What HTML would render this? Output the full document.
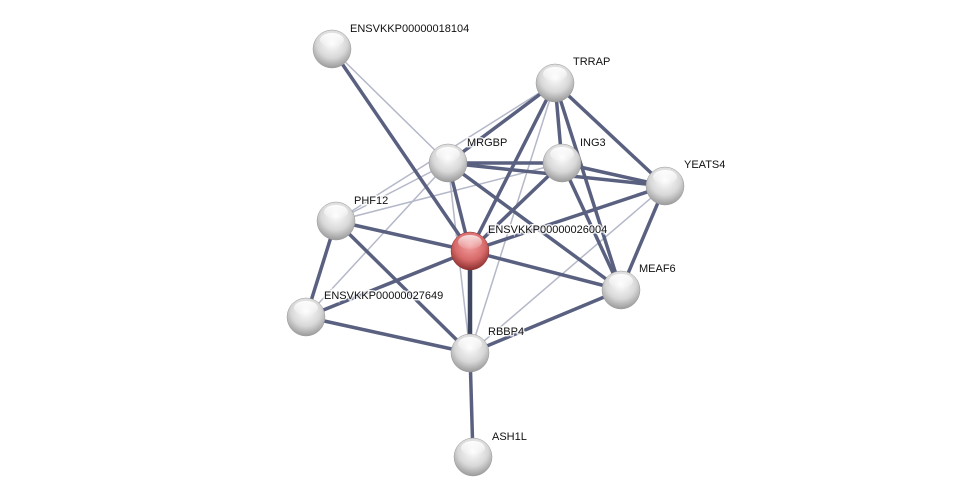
<!DOCTYPE html>
<html><head><style>html,body{margin:0;padding:0;background:#fff;}svg{display:block}</style></head>
<body>
<svg width="976" height="503" viewBox="0 0 976 503" xmlns="http://www.w3.org/2000/svg" font-family="Liberation Sans, sans-serif" font-size="11">
<defs>
<radialGradient id="g" cx="50%" cy="35%" r="65%">
<stop offset="0" stop-color="#fdfdfd"/><stop offset="0.6" stop-color="#d8d8d8"/><stop offset="1" stop-color="#9a9a9a"/></radialGradient>
<radialGradient id="r" cx="50%" cy="35%" r="65%">
<stop offset="0" stop-color="#f3a0a0"/><stop offset="0.6" stop-color="#d86a6a"/><stop offset="1" stop-color="#8e3030"/></radialGradient>
<linearGradient id="h" x1="0" y1="0" x2="0" y2="1"><stop offset="0" stop-color="#fff" stop-opacity="0.95"/><stop offset="1" stop-color="#fff" stop-opacity="0.1"/></linearGradient>
</defs>
<g stroke="#b4b8c8" stroke-width="1.5">
<line x1="332" y1="49" x2="448" y2="163"/>
<line x1="555" y1="83" x2="336" y2="221"/><line x1="555" y1="83" x2="470" y2="353"/>
<line x1="448" y1="163" x2="336" y2="221"/><line x1="448" y1="163" x2="306" y2="317"/>
<line x1="562" y1="163" x2="336" y2="221"/><line x1="665" y1="186" x2="470" y2="353"/>
<line x1="448" y1="163" x2="470" y2="353"/>
</g>
<g stroke="#5a6180" stroke-width="3.5">
<line x1="332" y1="49" x2="470" y2="251"/>
<line x1="555" y1="83" x2="448" y2="163"/><line x1="555" y1="83" x2="562" y2="163"/>
<line x1="555" y1="83" x2="665" y2="186"/><line x1="555" y1="83" x2="621" y2="290"/>
<line x1="555" y1="83" x2="470" y2="251"/>
<line x1="448" y1="163" x2="562" y2="163"/><line x1="448" y1="163" x2="665" y2="186"/>
<line x1="448" y1="163" x2="621" y2="290"/><line x1="448" y1="163" x2="470" y2="251"/>
<line x1="562" y1="163" x2="665" y2="186"/><line x1="562" y1="163" x2="621" y2="290"/>
<line x1="562" y1="163" x2="470" y2="251"/>
<line x1="665" y1="186" x2="470" y2="251"/><line x1="665" y1="186" x2="621" y2="290"/>
<line x1="336" y1="221" x2="470" y2="251"/><line x1="336" y1="221" x2="306" y2="317"/>
<line x1="336" y1="221" x2="470" y2="353"/>
<line x1="470" y1="251" x2="306" y2="317"/><line x1="470" y1="251" x2="621" y2="290"/>
<line x1="306" y1="317" x2="470" y2="353"/><line x1="470" y1="353" x2="621" y2="290"/>
<line x1="470" y1="353" x2="473" y2="457"/>
</g>
<line x1="470" y1="251" x2="470" y2="353" stroke="#3f4660" stroke-width="4.5"/>
<g>
<g transform="translate(332,49)"><circle r="19" fill="url(#g)" stroke="#999" stroke-width="0.5"/><ellipse cy="-9" rx="12" ry="7" fill="url(#h)"/></g>
<g transform="translate(555,83)"><circle r="19" fill="url(#g)" stroke="#999" stroke-width="0.5"/><ellipse cy="-9" rx="12" ry="7" fill="url(#h)"/></g>
<g transform="translate(448,163)"><circle r="19" fill="url(#g)" stroke="#999" stroke-width="0.5"/><ellipse cy="-9" rx="12" ry="7" fill="url(#h)"/></g>
<g transform="translate(562,163)"><circle r="19" fill="url(#g)" stroke="#999" stroke-width="0.5"/><ellipse cy="-9" rx="12" ry="7" fill="url(#h)"/></g>
<g transform="translate(665,186)"><circle r="19" fill="url(#g)" stroke="#999" stroke-width="0.5"/><ellipse cy="-9" rx="12" ry="7" fill="url(#h)"/></g>
<g transform="translate(336,221)"><circle r="19" fill="url(#g)" stroke="#999" stroke-width="0.5"/><ellipse cy="-9" rx="12" ry="7" fill="url(#h)"/></g>
<g transform="translate(470,251)"><circle r="19" fill="url(#r)" stroke="#8e3030" stroke-width="0.5"/><ellipse cy="-9" rx="12" ry="7" fill="url(#h)" opacity="0.8"/></g>
<g transform="translate(621,290)"><circle r="19" fill="url(#g)" stroke="#999" stroke-width="0.5"/><ellipse cy="-9" rx="12" ry="7" fill="url(#h)"/></g>
<g transform="translate(306,317)"><circle r="19" fill="url(#g)" stroke="#999" stroke-width="0.5"/><ellipse cy="-9" rx="12" ry="7" fill="url(#h)"/></g>
<g transform="translate(470,353)"><circle r="19" fill="url(#g)" stroke="#999" stroke-width="0.5"/><ellipse cy="-9" rx="12" ry="7" fill="url(#h)"/></g>
<g transform="translate(473,457)"><circle r="19" fill="url(#g)" stroke="#999" stroke-width="0.5"/><ellipse cy="-9" rx="12" ry="7" fill="url(#h)"/></g>
</g>
<g fill="#111" stroke="#fff" stroke-width="3" paint-order="stroke" stroke-opacity="0.8">
<text x="350" y="32">ENSVKKP00000018104</text>
<text x="573" y="65">TRRAP</text>
<text x="467" y="146">MRGBP</text>
<text x="580" y="146">ING3</text>
<text x="684" y="168">YEATS4</text>
<text x="354" y="204">PHF12</text>
<text x="488" y="233">ENSVKKP00000026004</text>
<text x="639" y="272">MEAF6</text>
<text x="324" y="299">ENSVKKP00000027649</text>
<text x="488" y="335">RBBP4</text>
<text x="492" y="440">ASH1L</text>
</g>
</svg>
</body></html>
